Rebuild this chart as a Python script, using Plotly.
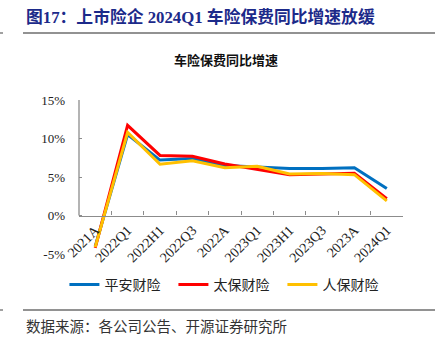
import plotly.graph_objects as go

categories = ["2021A", "2022Q1", "2022H1", "2022Q3", "2022A", "2023Q1", "2023H1", "2023Q3", "2023A", "2024Q1"]
pingan = [-4.0, 10.5, 7.2, 7.4, 6.5, 6.3, 6.1, 6.1, 6.2, 3.5]
taibao = [-4.2, 11.7, 7.8, 7.7, 6.7, 6.0, 5.3, 5.4, 5.5, 2.2]
renbao = [-4.1, 10.8, 6.65, 7.1, 6.2, 6.4, 5.4, 5.45, 5.3, 1.9]
series_names = ["平安财险", "太保财险", "人保财险"]
series_colors = ["#0070C0", "#FF0000", "#FFC000"]
y_ticks = [-5, 0, 5, 10, 15]

CJK = "Noto Sans CJK SC"
SERIF = "Liberation Serif"

fig = go.Figure()
for name, vals, col in zip(series_names, [pingan, taibao, renbao], series_colors):
    fig.add_trace(go.Scatter(x=categories, y=vals, mode="lines", name=name,
                             line=dict(color=col, width=3)))

W, H = 442, 352
L, R, T, B = 79, 39, 100, 98

fig.update_layout(
    width=W, height=H,
    margin=dict(l=L, r=R, t=T, b=B),
    paper_bgcolor="white", plot_bgcolor="white",
    showlegend=True,
    legend=dict(orientation="h", x=-0.045, xanchor="left", y=-0.2, yanchor="middle",
                font=dict(family=CJK, size=14, color="#222"),
                entrywidth=64, entrywidthmode="pixels", itemwidth=30,
                bgcolor="rgba(0,0,0,0)"),
    xaxis=dict(type="category", range=[-0.5, 9.5], anchor="free", position=0.25,
               showline=True, linecolor="#8c8c8c", linewidth=1.3,
               ticks="inside", tickson="boundaries", ticklen=4, tickcolor="#8c8c8c",
               tickangle=-45, tickfont=dict(family=SERIF, size=14, color="#222"),
               showgrid=False, zeroline=False),
    yaxis=dict(range=[-5, 15], tickvals=y_ticks, ticktext=[f"{v}%" for v in y_ticks],
               showline=False, ticks="inside", ticklen=3, tickcolor="#8c8c8c",
               tickfont=dict(family=SERIF, size=13, color="#222"),
               ticklabelstandoff=13,
               showgrid=False, zeroline=False),
)

# y axis line only from 0% to 15%
fig.add_shape(type="line", xref="paper", yref="y", x0=0, x1=0, y0=0, y1=15,
              line=dict(color="#8c8c8c", width=1.3))

# header / footer rules
def hline(ypix, x0pix, x1pix):
    fig.add_shape(type="line", xref="paper", yref="paper",
                  x0=(x0pix - L) / (W - L - R), x1=(x1pix - L) / (W - L - R),
                  y0=(H - B - ypix) / (H - T - B), y1=(H - B - ypix) / (H - T - B),
                  line=dict(color="#6e6e6e", width=1.3))

hline(33, 23, 435)
hline(33, 0, 3)
hline(310, 23, 435)
hline(310, 0, 3)

def ann(text, xpix, ypix, size, color, family, xanchor="left", bold=False):
    fig.add_annotation(text=f"<b>{text}</b>" if bold else text, xref="paper", yref="paper",
                       x=(xpix - L) / (W - L - R), y=(H - B - ypix) / (H - T - B),
                       xanchor=xanchor, yanchor="middle", showarrow=False,
                       font=dict(size=size, color=color, family=family))

ann("图17：上市险企 2024Q1 车险保费同比增速放缓", 24, 17, 16.8, "#1c2a8a", f"{SERIF}, {CJK}", bold=True)
ann("车险保费同比增速", 226, 59, 13, "#111", CJK, xanchor="center", bold=True)
ann("数据来源：各公司公告、开源证券研究所", 24, 325, 14.5, "#333", CJK)

fig.write_html("out.html")
